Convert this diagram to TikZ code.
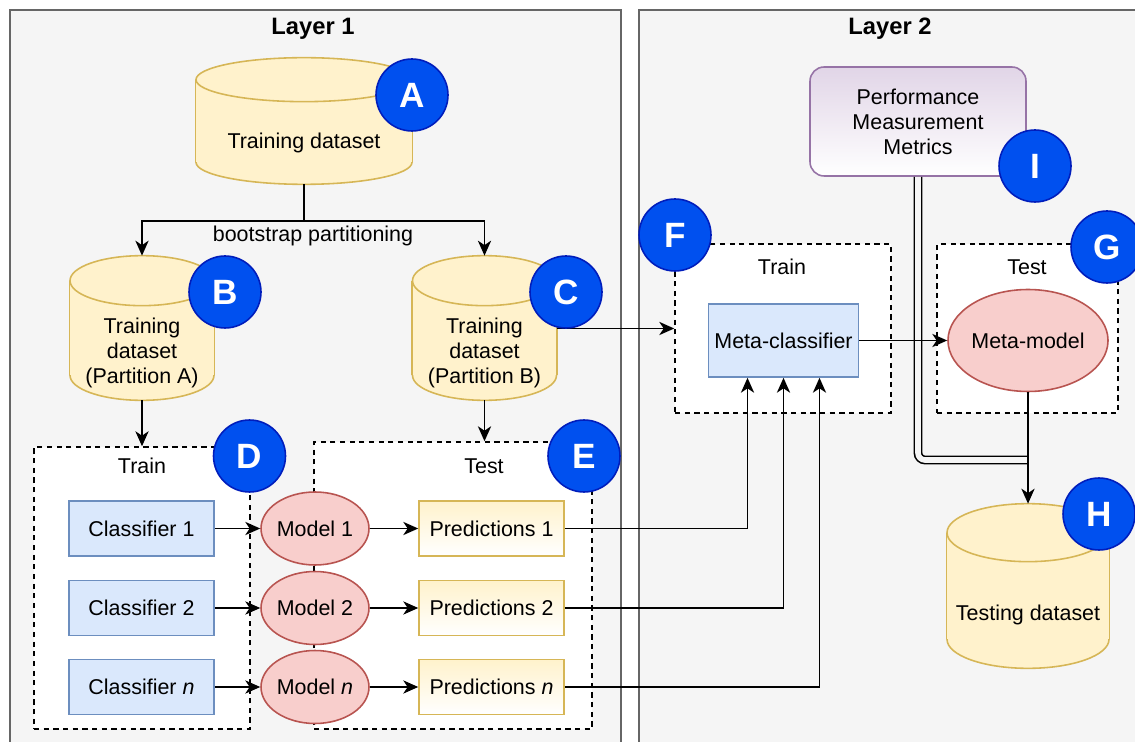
\documentclass[tikz,border=0pt]{standalone}
\usepackage{fontspec}
\setmainfont{Liberation Sans}
\usetikzlibrary{positioning, shapes.geometric, arrows.meta, backgrounds}

\definecolor{panelfill}{HTML}{F5F5F5}
\definecolor{panelline}{HTML}{666666}
\definecolor{drumfill}{HTML}{FFF2CC}
\definecolor{drumline}{HTML}{D6B656}
\definecolor{clffill}{HTML}{DAE8FC}
\definecolor{clfline}{HTML}{6C8EBF}
\definecolor{modelfill}{HTML}{F8CECC}
\definecolor{modelline}{HTML}{B85450}
\definecolor{badgefill}{HTML}{0050EF}
\definecolor{badgeline}{HTML}{001DBC}
\definecolor{metricfill}{HTML}{E1D5E7}
\definecolor{metricline}{HTML}{9673A6}

\tikzset{
	txt/.style={font=\fontsize{12.2}{14.2}\selectfont},
	dataset/.style={txt, rectangle, inner sep=0pt, align=center},
	classifier/.style={txt, draw=clfline, fill=clffill, line width=0.9pt, rectangle, minimum width=2.9cm, minimum height=1.1cm},
	model/.style={txt, draw=modelline, fill=modelfill, line width=0.9pt, ellipse, inner sep=0pt, minimum width=2.16cm, minimum height=1.46cm},
	pred/.style={txt, draw=drumline, top color=drumfill, bottom color=white, line width=0.9pt, minimum width=2.9cm, minimum height=1.1cm},
	stage/.style={draw=black, fill=white, line width=0.9pt, dash pattern=on 3pt off 2.5pt, inner sep=0pt},
	badge/.style={circle, draw=badgeline, fill=badgefill, line width=0.9pt, text=white, inner sep=0pt, minimum size=1.44cm, font=\bfseries\fontsize{20}{24}\selectfont},
	metric/.style={txt, draw=metricline, top color=metricfill, bottom color=white, rounded corners=8pt, line width=0.9pt, align=center, minimum width=4.32cm, minimum height=2.18cm},
	heading/.style={font=\bfseries\fontsize{13.5}{16}\selectfont},
	% outline of a database drum
	drum/.style={draw=drumline, fill=drumfill, line width=0.9pt},
}

% drum round a dataset node: #1 node, #2 half width, #3 cap radius
\newcommand{\dbdrum}[3]{%
	\filldraw[drum] ([yshift=#3]#1.south) ellipse [x radius=#2, y radius=#3];
	\fill[drumfill] ([yshift=#3]#1.south west) rectangle ([yshift=#3]#1.north east);
	\draw[drum, fill=none] ([yshift=#3]#1.south west) -- ([yshift=#3]#1.north west)
		([yshift=#3]#1.south east) -- ([yshift=#3]#1.north east);
	\filldraw[drum] ([yshift=#3]#1.north) ellipse [x radius=#2, y radius=#3];
}

\begin{document}
\begin{tikzpicture}[x=0.02cm, y=-0.02cm]

		\path[use as bounding box] (0,0) rectangle (1135,742);
		\begin{scope}[on background layer]
			\fill[white] (0,0) rectangle (1135,742);
			\filldraw[fill=panelfill, draw=panelline, line width=1pt] (10,10) rectangle (621,760);
			\filldraw[fill=panelfill, draw=panelline, line width=1pt] (639,10) rectangle (1150,760);
		\end{scope}

		\node (title1) [heading] at (313,29) {Layer 1};
		\node (title2) [heading] at (890,29) {Layer 2};

		% train / test stages
		\node (trainD) [stage, minimum width=4.32cm, minimum height=5.64cm] at (142,588) {};
		\node (testE) [stage, minimum width=5.56cm, minimum height=5.74cm] at (453,585.5) {};
		\node (trainF) [stage, minimum width=4.32cm, minimum height=3.38cm] at (783,328.5) {};
		\node (testG) [stage, minimum width=3.62cm, minimum height=3.38cm] at (1027.5,328.5) {};
		\node (lblD) [txt] at (142,466) {Train};
		\node (lblE) [txt] at (484,466) {Test};
		\node (lblF) [txt] at (782,267) {Train};
		\node (lblG) [txt] at (1027,267) {Test};

		% datasets
		\node (dsA) [dataset, minimum width=4.32cm, minimum height=1.64cm] at (304,143) {Training dataset};
		\node (dsB) [dataset, minimum width=2.88cm, minimum height=1.88cm] at (142,353) {Training\\dataset\\(Partition A)};
		\node (dsC) [dataset, minimum width=2.88cm, minimum height=1.88cm] at (484.5,353) {Training\\dataset\\(Partition B)};
		\node (dsH) [dataset, minimum width=3.24cm, minimum height=2.12cm] at (1028,615) {Testing dataset};
		\node (boot) [txt] at (313,236) {bootstrap partitioning};

		\begin{scope}[on background layer]
			\dbdrum{dsA}{2.16cm}{0.44cm}
			\dbdrum{dsB}{1.44cm}{0.5cm}
			\dbdrum{dsC}{1.44cm}{0.5cm}
			\dbdrum{dsH}{1.62cm}{0.58cm}
		\end{scope}

		% base learners
		\node (clf1) [classifier] at (141.5,528.5) {Classifier 1};
		\node (clf2) [classifier] at (141.5,608) {Classifier 2};
		\node (clfn) [classifier] at (141.5,687) {Classifier \textit{n}};
		\node (mod1) [model] at (315,528.5) {Model 1};
		\node (mod2) [model] at (315,608) {Model 2};
		\node (modn) [model] at (315,687) {Model \textit{n}};
		\node (pred1) [pred] at (491.5,528.5) {Predictions 1};
		\node (pred2) [pred] at (491.5,608) {Predictions 2};
		\node (predn) [pred] at (491.5,687) {Predictions \textit{n}};

		% meta level
		\node (metaclf) [classifier, minimum height=1.46cm] at (783.5,340.5) {Meta-classifier};
		\node (metamod) [model, minimum width=3.18cm, minimum height=2.04cm] at (1028,340.5) {Meta-model};
		\node (metric) [metric] at (918,121.5) {Performance\\Measurement\\Metrics};

		\coordinate (fork) at ([yshift=-0.74cm]dsA.south);
		\coordinate (merge) at (metamod.south |- 0,460);
		\draw[double=panelfill, double distance=3.2pt, line width=0.9pt, rounded corners=4pt] (metric.south) |- (merge);

		\begin{scope}[line width=1.1pt, black, ->, >={Stealth[length=8.5pt, width=7.5pt, inset=2.5pt]}]

			\draw[-] (dsA.south) -- (fork);
			\draw (fork) -| ([yshift=1cm]dsB.north);
			\draw (fork) -| ([yshift=1cm]dsC.north);
			\draw (dsB.south) -- (trainD.north);
			\draw (dsC.south) -- (dsC.south |- testE.north);
			\draw (clf1) -- (mod1);
			\draw (clf2) -- (mod2);
			\draw (clfn) -- (modn);
			\draw (mod1) -- (pred1);
			\draw (mod2) -- (pred2);
			\draw (modn) -- (predn);
			\draw (pred1.east) -| ([xshift=-0.72cm]metaclf.south);
			\draw (pred2.east) -| (metaclf.south);
			\draw (predn.east) -| ([xshift=0.72cm]metaclf.south);
			\draw (dsC.east |- trainF.west) -- (trainF.west);
			\draw (metaclf) -- (metamod);
			\draw (metamod.south) -- ([yshift=1.16cm]dsH.north);

		\end{scope}

		% step markers
		\node (bA) [badge] at (412,95) {A};
		\node (bB) [badge] at (225,292) {B};
		\node (bC) [badge] at (566,292) {C};
		\node (bD) [badge] at (249.5,456) {D};
		\node (bE) [badge] at (584,456) {E};
		\node (bF) [badge] at (675,235) {F};
		\node (bG) [badge] at (1107,247) {G};
		\node (bH) [badge] at (1099,514) {H};
		\node (bI) [badge] at (1035,166) {I};

\end{tikzpicture}
\end{document}
